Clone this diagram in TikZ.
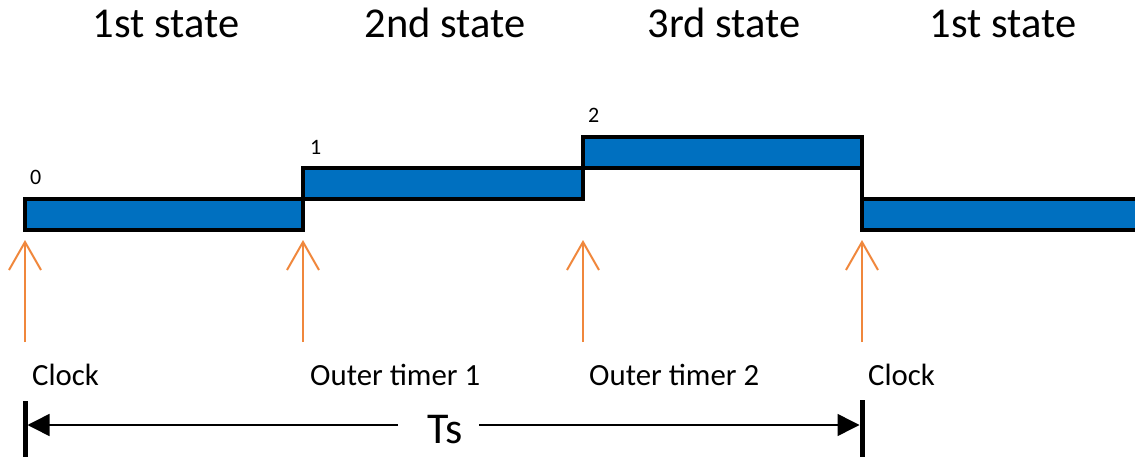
\documentclass[tikz,border=0pt]{standalone}
\usepackage{fontspec}
\setmainfont{Carlito}
\usetikzlibrary{arrows.meta}
\definecolor{barblue}{RGB}{0,112,192}
\definecolor{arrorange}{RGB}{240,135,60}
\begin{document}
\begin{tikzpicture}[x=1pt,y=-1pt,
  bar/.style={draw=black,fill=barblue,line width=4pt,rectangle,inner sep=0pt,outer sep=0pt,minimum height=31pt},
  edge/.style={draw=black,line width=4pt},
  trig/.style={draw=arrorange,line width=2pt,-{Straight Barb[length=28pt,width=32pt,line width=2pt]}},
  title/.style={font=\fontsize{42.5}{46}\selectfont,anchor=base},
  lbl/.style={font=\fontsize{30.8}{34}\selectfont,anchor=base west,inner sep=0pt},
  digit/.style={font=\fontsize{22}{26}\selectfont,anchor=base west,inner sep=0pt},
  tsbar/.style={line width=5pt},
  tsline/.style={line width=1.5pt,-{Triangle[length=22pt,width=22pt]}}]
\useasboundingbox (0,0) rectangle (1135,457);
\begin{scope}
\clip (0,0) rectangle (1135,457);
% titles
\node[title] (t1) at (166,38) {1st state};
\node[title] (t2) at (445,38) {2nd state};
\node[title] (t3) at (724,38) {3rd state};
\node[title] (t4) at (1003,38) {1st state};
% bars
\node[bar,minimum width=278pt,anchor=north west] (b0) at (25,199) {};
\node[bar,minimum width=280pt,anchor=north west] (b1) at (303,168) {};
\node[bar,minimum width=279pt,anchor=north west] (b2) at (583,137) {};
\node[bar,minimum width=300pt,anchor=north west] (b3) at (862,199) {};
\draw[edge] (b2.north east) -- (b3.south west);
% digits
\node[digit] (d0) at (30,185) {0};
\node[digit] (d1) at (310,155) {1};
\node[digit] (d2) at (588,123) {2};
% trigger arrows
\coordinate (a0) at (25,342);
\coordinate (a1) at (303,342);
\coordinate (a2) at (583,342);
\coordinate (a3) at (862,342);
\coordinate (h0) at (25,240);
\coordinate (h1) at (303,240);
\coordinate (h2) at (583,240);
\coordinate (h3) at (862,240);
\draw[trig] (a0) -- (h0);
\draw[trig] (a1) -- (h1);
\draw[trig] (a2) -- (h2);
\draw[trig] (a3) -- (h3);
% labels
\node[lbl] (l0) at (32,385) {Clock};
\node[lbl] (l1) at (310,385) {Outer timer 1};
\node[lbl] (l2) at (589,385) {Outer timer 2};
\node[lbl] (l3) at (868,385) {Clock};
% Ts
\coordinate (sL) at (25,401);
\coordinate (sLb) at (25,460);
\coordinate (sR) at (862,400);
\coordinate (sRb) at (862,460);
\draw[tsbar] (sL) -- (sLb);
\draw[tsbar] (sR) -- (sRb);
\node[font=\fontsize{44}{48}\selectfont,inner sep=0pt] (ts) at (445,430) {Ts};
\coordinate (pL) at (27.5,425);
\coordinate (pR) at (859.5,425);
\draw[tsline] (398,425) -- (pL);
\draw[tsline] (479,425) -- (pR);
\end{scope}
\end{tikzpicture}
\end{document}
